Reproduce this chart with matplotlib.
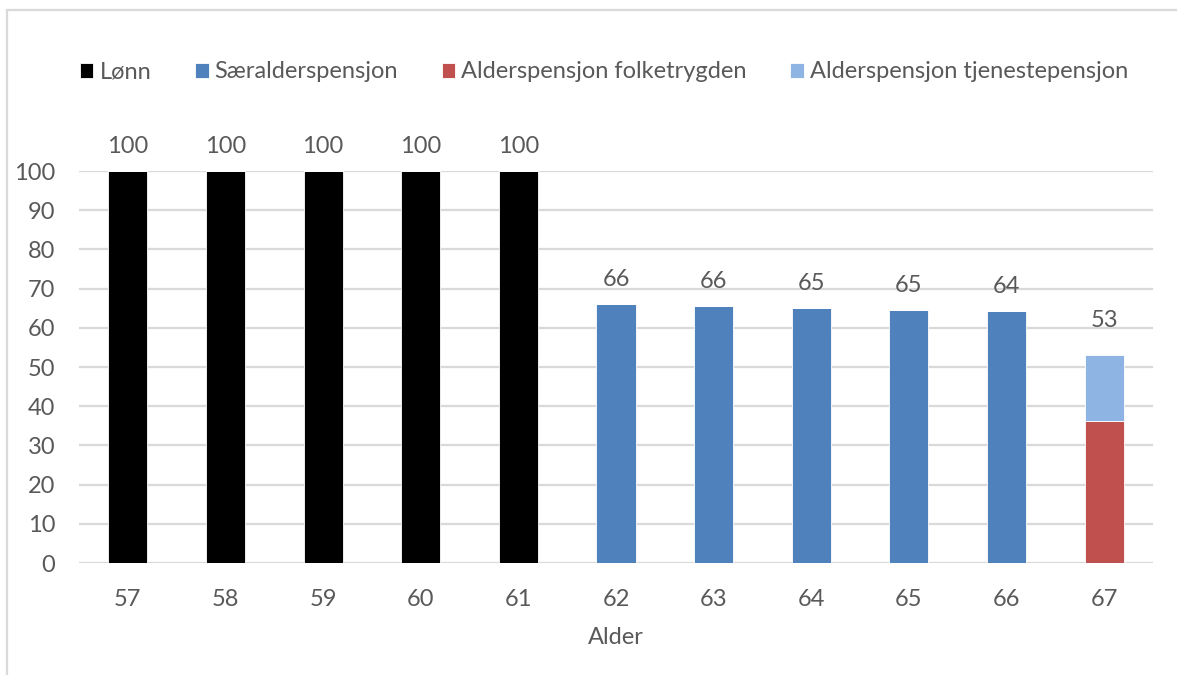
import matplotlib
matplotlib.use("Agg")
import matplotlib.pyplot as plt
from matplotlib.patches import Rectangle
import numpy as np

# Ages on the x axis
ages = ["57", "58", "59", "60", "61", "62", "63", "64", "65", "66", "67"]

# Income as percent of salary, by source
lonn = [100, 100, 100, 100, 100, 0, 0, 0, 0, 0, 0]
saeralder = [0, 0, 0, 0, 0, 66.0, 65.5, 65.1, 64.6, 64.3, 0]
folketrygd = [0, 0, 0, 0, 0, 0, 0, 0, 0, 0, 36.1]
tjeneste = [0, 0, 0, 0, 0, 0, 0, 0, 0, 0, 16.9]

series_names = ["Lønn", "Særalderspensjon", "Alderspensjon folketrygden",
                "Alderspensjon tjenestepensjon"]
colors = ["#000000", "#4F81BD", "#C0504D", "#8EB4E3"]

y_ticks = list(range(0, 101, 10))

TEXT = "#595959"
GRID = "#D9D9D9"
FONT = "Lato"
FS = 17

plt.rcParams["font.family"] = [FONT, "DejaVu Sans"]

fig = plt.figure(figsize=(11.77, 6.75), dpi=100)
W, H = 1177, 675
ax = fig.add_axes([79 / W, 1 - 563 / H, (1153 - 79) / W, (563 - 171) / H])

x = np.arange(len(ages))
width = 0.4
bottom = np.zeros(len(ages))
handles = []
n_parts = np.zeros(len(ages))
for vals, name, col in zip([lonn, saeralder, folketrygd, tjeneste], series_names, colors):
    vals = np.array(vals, dtype=float)
    b = ax.bar(x, vals, width, bottom=bottom, color=col, edgecolor="white",
               linewidth=0.6, label=name, zorder=3)
    handles.append(b)
    bottom = bottom + vals
    n_parts += vals > 0

# Value labels above each stack (a little higher over stacked columns)
for xi, tot, n in zip(x, bottom, n_parts):
    dy = 17.5 if n < 2 else 25
    ax.annotate(f"{tot:.0f}", (xi, tot), xytext=(0, dy), textcoords="offset points",
                ha="center", va="center", fontsize=FS, color=TEXT)

ax.set_xlim(-0.5, len(ages) - 0.5)
ax.set_ylim(0, 100)
ax.set_yticks(y_ticks)
ax.set_xticks(x)
ax.set_xticklabels(ages)
ax.yaxis.grid(True, color=GRID, linewidth=1.6, zorder=0)
ax.set_axisbelow(True)
for s in ax.spines.values():
    s.set_visible(False)
ax.tick_params(axis="both", length=0, labelsize=FS, labelcolor=TEXT)
ax.tick_params(axis="y", pad=17)
ax.tick_params(axis="x", pad=19)
ax.set_xlabel("Alder", fontsize=FS, color=TEXT, labelpad=12)

leg = fig.legend(handles=handles, labels=series_names, ncol=4, loc="center",
                 bbox_to_anchor=(604 / W, 1 - 72 / H), frameon=False,
                 fontsize=FS, handlelength=0.58, handleheight=0.58,
                 handletextpad=0.25, columnspacing=1.85, labelcolor=TEXT)

# Chart frame
fig.patches.append(Rectangle((7 / W, -0.1), 1.2, 1 - 10 / H + 0.1,
                             transform=fig.transFigure, fill=False,
                             edgecolor=GRID, linewidth=1.6))

fig.savefig("out.png", dpi=100)
